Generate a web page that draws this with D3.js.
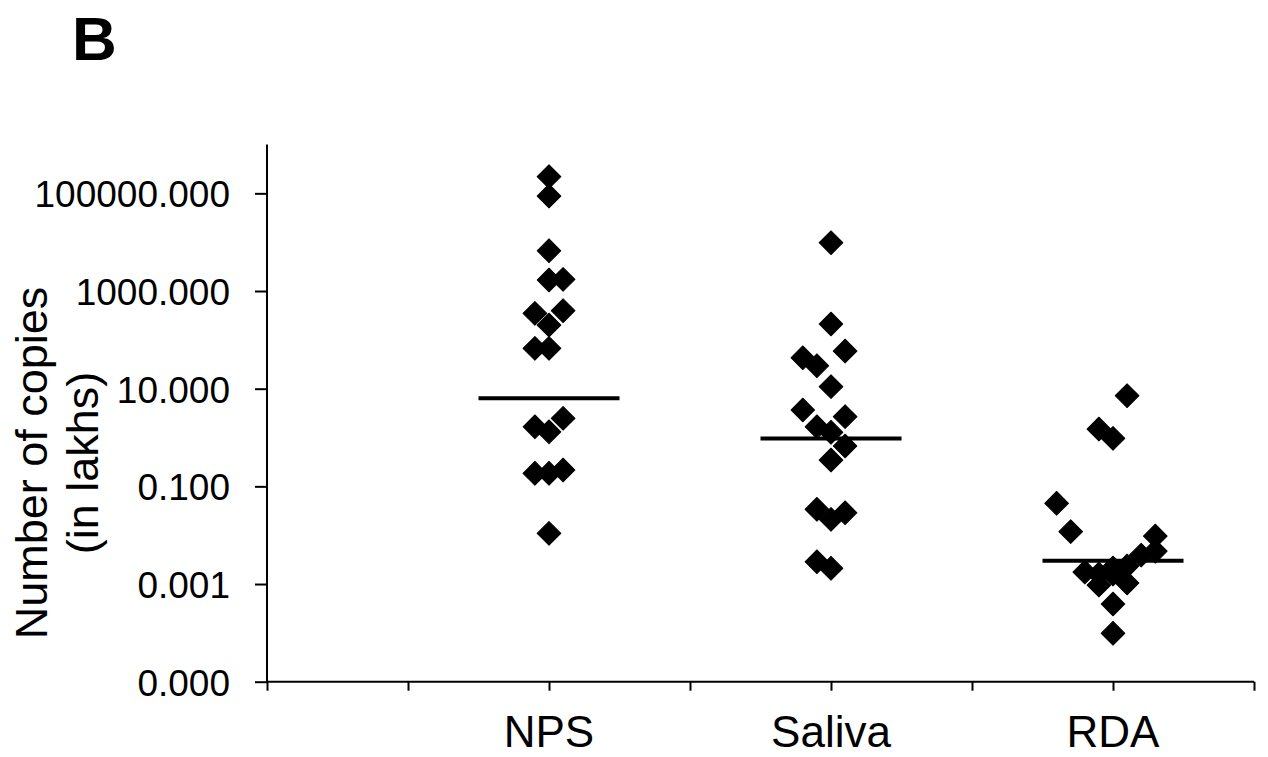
<!DOCTYPE html>
<html>
<head>
<meta charset="utf-8">
<script src="https://cdn.jsdelivr.net/npm/d3@7"></script>
<style>
  body { margin: 0; background: #fff; }
  text { font-family: "Liberation Sans", Arial, sans-serif; fill: #000; }
</style>
</head>
<body>
<svg id="chart" width="1268" height="757"></svg>
<script>
//// data
var categories = ["NPS", "Saliva", "RDA"];
var categoryX = [2, 4, 6];

// copies (in lakhs) and the small sideways shift of each point
var npsCopies = [220000, 88000, 6680, 1680, 1735, 349, 395, 201, 67, 67,
                 1.66, 2.47, 1.31, 0.185, 0.185, 0.216, 0.0109];
var npsShift  = [0, 0, 0, 0, 0.1, -0.1, 0.1, 0, -0.1, 0,
                 -0.1, 0.1, 0, -0.1, 0, 0.1, 0];

var salivaCopies = [9750, 211, 59, 43, 29.5, 11, 3.66, 2.67, 1.66, 1.28,
                    0.67, 0.346, 0.0339, 0.0211, 0.0288, 0.00286, 0.0021];
var salivaShift  = [0, 0, 0.1, -0.2, -0.1, 0, -0.2, 0.1, -0.1, 0,
                    0.1, 0, -0.1, 0, 0.1, -0.1, 0];

var rdaCopies = [7.18, 1.49, 0.96, 0.045, 0.0118, 0.0096, 0.0047, 0.0039, 0.00234,
                 0.00176, 0.0016, 0.0016, 0.00105, 0.00095, 0.00039, 0.000098, 0.00213];
var rdaShift  = [0.1, -0.1, 0, -0.4, -0.3, 0.3, 0.3, 0.2, 0.1,
                 -0.2, -0.1, 0, 0.1, -0.1, 0, 0, 0];

var medians = [6.35, 0.96, 0.0030];

var yTicks = [0.00001, 0.001, 0.1, 10, 1000, 100000];
var xTicks = [0, 1, 2, 3, 4, 5, 6, 7];

//// layout
var svg = d3.select("svg#chart");

var plotLeft = 267, plotRight = 1254,
    plotTop = 144.5, plotBottom = 681.7;

var x = d3.scaleLinear().domain([0, 7]).range([plotLeft, plotRight]);
var y = d3.scaleLog().domain([0.00001, 1000000]).range([plotBottom, plotTop]);

// panel letter
svg.append("text")
   .attr("x", 72)
   .attr("y", 60)
   .style("font-size", "62px")
   .style("font-weight", "bold")
   .text("B");

// y axis
var yAxis = svg.append("g")
   .attr("transform", "translate(" + plotLeft + ",0)")
   .call(d3.axisLeft(y)
           .tickValues(yTicks)
           .tickFormat(function(d) { return d.toFixed(3); })
           .tickSize(12)
           .tickPadding(25));

yAxis.select(".domain").attr("d", "M0," + plotTop + "V" + plotBottom);
yAxis.selectAll("line, path").attr("stroke", "#000").attr("stroke-width", 2);
yAxis.selectAll("text")
     .style("font-size", "37px")
     .style("font-family", "Liberation Sans, Arial, sans-serif")
     .attr("dy", "0.36em");

// x axis
var xAxis = svg.append("g")
   .attr("transform", "translate(0," + plotBottom + ")")
   .call(d3.axisBottom(x)
           .tickValues(xTicks)
           .tickFormat("")
           .tickSize(9));

xAxis.select(".domain").attr("d", "M" + plotLeft + ",0H" + plotRight);
xAxis.selectAll("line, path").attr("stroke", "#000").attr("stroke-width", 2);

// category names
svg.selectAll("text.cat")
   .data(categories)
   .enter().append("text")
   .attr("class", "cat")
   .attr("x", function(d, i) { return x(categoryX[i]); })
   .attr("y", 747)
   .attr("text-anchor", "middle")
   .style("font-size", "44px")
   .text(function(d) { return d; });

// y title
var yTitle = svg.append("text")
   .attr("transform", "translate(0,463) rotate(-90)")
   .attr("text-anchor", "middle")
   .style("font-size", "45px");

yTitle.append("tspan").attr("x", 0).attr("y", 47).text("Number of copies");
yTitle.append("tspan").attr("x", 0).attr("y", 98).text("(in lakhs)");

// points
var groups = [
  {copies: npsCopies, shift: npsShift},
  {copies: salivaCopies, shift: salivaShift},
  {copies: rdaCopies, shift: rdaShift}
];

var points = [];
groups.forEach(function(g, i) {
  g.copies.forEach(function(v, j) {
    points.push({x: categoryX[i] + g.shift[j], v: v});
  });
});

var diamond = d3.symbol().type(d3.symbolSquare).size(280);

svg.selectAll("path.pt")
   .data(points)
   .enter().append("path")
   .attr("class", "pt")
   .attr("d", diamond)
   .attr("transform", function(d) {
       return "translate(" + x(d.x) + "," + y(d.v) + ") rotate(45)";
   })
   .attr("fill", "#000")
   .attr("stroke", "#000")
   .attr("stroke-width", 1)
   .attr("stroke-linejoin", "round");

// median bars
svg.selectAll("line.median")
   .data(medians)
   .enter().append("line")
   .attr("class", "median")
   .attr("x1", function(d, i) { return x(categoryX[i] - 0.5); })
   .attr("x2", function(d, i) { return x(categoryX[i] + 0.5); })
   .attr("y1", function(d) { return y(d); })
   .attr("y2", function(d) { return y(d); })
   .attr("stroke", "#000")
   .attr("stroke-width", 4);
</script>
</body>
</html>
